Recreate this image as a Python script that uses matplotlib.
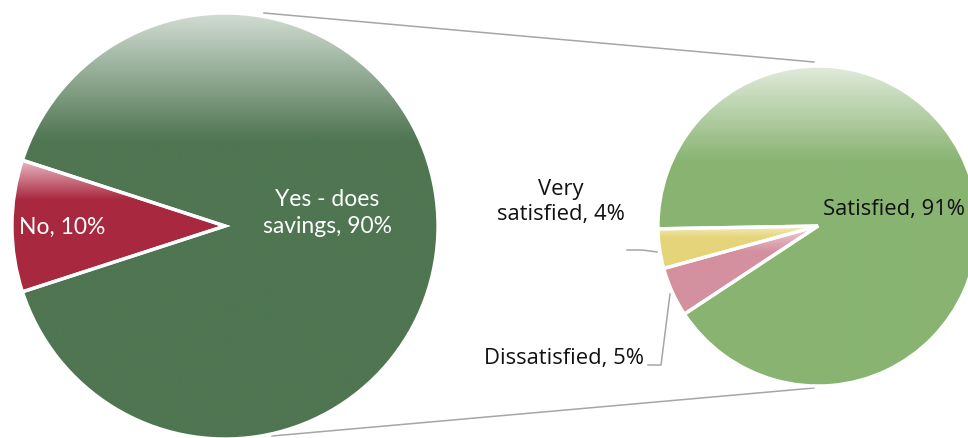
import numpy as np
import matplotlib
matplotlib.use("Agg")
import matplotlib.pyplot as plt
from matplotlib.colors import to_rgb

# Savings survey: does the respondent save, and satisfaction among savers
main_labels = ["No", "Yes - does\nsavings"]
main_values = [10, 90]
main_colors = ["#a8283f", "#4f7551"]
main_tops = ["#e9b9c4", "#d2ddd3"]

sub_labels = ["Satisfied", "Very\nsatisfied", "Dissatisfied"]
sub_values = [91, 4, 5]
sub_colors = ["#88b371", "#e5d479", "#d4909f"]
sub_tops = ["#e1ebdb", "#f4edc0", "#efd3da"]

W, H = 968, 439
fig = plt.figure(figsize=(W / 100, H / 100), dpi=100)
ax = fig.add_axes([0, 0, 1, 1])


def Y(y):
    return H - y


main_center = (225, Y(227))
main_r = 213
sub_center = (818, Y(227))
sub_r = 160


def draw_pie(values, colors, tops, center, radius, startangle):
    wedges, _ = ax.pie(values, colors=colors, startangle=startangle,
                       counterclock=True, center=center, radius=radius,
                       wedgeprops=dict(edgecolor="white", linewidth=2.4),
                       frame=True)
    for w, base, top in zip(wedges, colors, tops):
        th = np.radians(np.linspace(w.theta1, w.theta2, 200))
        xs = np.concatenate([[center[0]], center[0] + radius * np.cos(th)])
        ys = np.concatenate([[center[1]], center[1] + radius * np.sin(th)])
        x0, x1, y0, y1 = xs.min(), xs.max(), ys.min(), ys.max()
        n = 400
        yy = np.linspace(y0, y1, n)
        t = np.clip((y1 - yy) / (0.3 * (y1 - y0)), 0, 1)[:, None]
        c0, c1 = np.array(to_rgb(top)), np.array(to_rgb(base))
        img = (c0 * (1 - t) + c1 * t)[:, None, :]
        im = ax.imshow(img, extent=(x0, x1, y0, y1), origin="lower",
                       aspect="auto", interpolation="bilinear", zorder=1)
        im.set_clip_path(w)
        w.set_facecolor("none")
        w.set_zorder(3)
    return wedges


draw_pie(main_values, main_colors, main_tops, main_center, main_r, 162)
draw_pie(sub_values, sub_colors, sub_tops, sub_center, sub_r, 213.4)

ax.set_xlim(0, W)
ax.set_ylim(0, H)
ax.set_aspect("equal")
ax.axis("off")

# connector lines between the two pies
line_kw = dict(color="#a6a6a6", lw=1.1, zorder=0.5)
ax.plot([264, 814], [Y(14), Y(63)], **line_kw)
ax.plot([272, 814], [Y(437), Y(389)], **line_kw)

# leader lines for the small slices
lead_kw = dict(color="#a6a6a6", lw=1.1, zorder=4)
ax.plot([627, 642, 650, 657], [Y(251), Y(251), Y(252), Y(253)], **lead_kw)
ax.plot([648, 661, 670], [Y(366), Y(366), Y(295)], **lead_kw)

lfont = dict(family=["Lato", "DejaVu Sans"], fontsize=16.5, color="white",
             ha="center", va="center", linespacing=1.3, zorder=5)
ax.text(62, Y(227), f"{main_labels[0]}, {main_values[0]}%", **lfont)
ax.text(327, Y(213), f"{main_labels[1]}, {main_values[1]}%", **lfont)

rfont = dict(family=["Open Sans", "DejaVu Sans"], fontsize=15.8, color="#111111",
             ha="center", va="center", linespacing=1.22, zorder=5)
ax.text(894, Y(209), f"{sub_labels[0]}, {sub_values[0]}%", **rfont)
ax.text(561, Y(202), f"{sub_labels[1]}, {sub_values[1]}%", **rfont)
ax.text(564, Y(359), f"{sub_labels[2]}, {sub_values[2]}%", **rfont)

fig.savefig("out.png", dpi=100, facecolor="white")
